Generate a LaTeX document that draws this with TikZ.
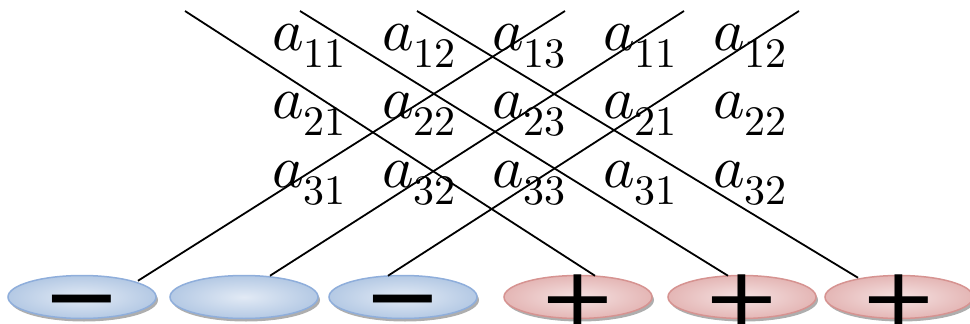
\documentclass[tikz,border=0pt]{standalone}
\usepackage{fontspec}
\usepackage{unicode-math}
\usepackage{graphicx}
\setmathfont{Latin Modern Math}
\usetikzlibrary{shapes.geometric,shadows,calc}
\newfontfamily\signfont{DejaVu Sans}
\definecolor{blueIn}{HTML}{E2EAF5}
\definecolor{blueOut}{HTML}{B4C9E4}
\definecolor{blueLine}{HTML}{8FAEDB}
\definecolor{redIn}{HTML}{F5E2E2}
\definecolor{redOut}{HTML}{E4B6B5}
\definecolor{redLine}{HTML}{D69391}
\newcommand\entry[1]{$a_{\raisebox{-2.5pt}{$\scriptstyle #1$}}$}
\newcommand\plusglyph{\scalebox{1}[0.86]{+}}
\tikzset{
  pill/.style={ellipse, minimum width=148pt, minimum height=43pt, inner sep=0pt,
    line width=1.5pt, drop shadow={shadow xshift=2pt, shadow yshift=-3pt, fill=black!45, opacity=0.7}},
  negpill/.style={pill, draw=blueLine, inner color=blueIn, outer color=blueOut},
  pospill/.style={pill, draw=redLine, inner color=redIn, outer color=redOut},
  signtext/.style={inner sep=0pt, font=\signfont\fontsize{94}{94}\selectfont},
  minustext/.style={signtext, yshift=-15pt},
  plustext/.style={signtext, yshift=-3pt},
  elem/.style={anchor=base west, inner sep=0pt, font=\fontsize{60}{72}\selectfont},
  diag/.style={line width=1.8pt, black}
}
\begin{document}
\begin{tikzpicture}[x=1pt,y=-1pt]
\clip (0,0) rectangle (970,324);
% matrix entries
\foreach \r/\y in {1/50,2/118,3/187}{
  \node[elem] (m\r1) at (272,\y) {\entry{\r1}};
  \node[elem] (m\r2) at (382,\y) {\entry{\r2}};
  \node[elem] (m\r3) at (492,\y) {\entry{\r3}};
  \node[elem] (m\r4) at (603,\y) {\entry{\r1}};
  \node[elem] (m\r5) at (713,\y) {\entry{\r2}};
}
% ellipses
\node[negpill] (e1) at (82,297) {};
\node[negpill] (e2) at (244,297) {};
\node[negpill] (e3) at (403,297) {};
\node[pospill] (e4) at (578,297) {};
\node[pospill] (e5) at (742,297) {};
\node[pospill] (e6) at (899,297) {};
% signs
\node[minustext] (s1) at (e1) {−};
\node[minustext] (s3) at (e3) {−};
\node[plustext] (s4) at (e4) {\plusglyph};
\node[plustext] (s5) at (e5) {\plusglyph};
\node[plustext] (s6) at (e6) {\plusglyph};
% diagonal line tops
\coordinate (d1) at (185,11);
\coordinate (d2) at (300,11);
\coordinate (d3) at (417,11);
\coordinate (u1) at (565,11);
\coordinate (u2) at (684,11);
\coordinate (u3) at (799,11);
\draw[diag] (d1) -- ($(e4.north)+(17,1)$);
\draw[diag] (d2) -- ($(e5.north)+(-14,1)$);
\draw[diag] (d3) -- ($(e6.north)+(-41,3)$);
\draw[diag] (u1) -- ($(e1.north)+(56,6)$);
\draw[diag] (u2) -- ($(e2.north)+(26,1)$);
\draw[diag] (u3) -- ($(e3.north)+(-15,1)$);
\end{tikzpicture}
\end{document}
